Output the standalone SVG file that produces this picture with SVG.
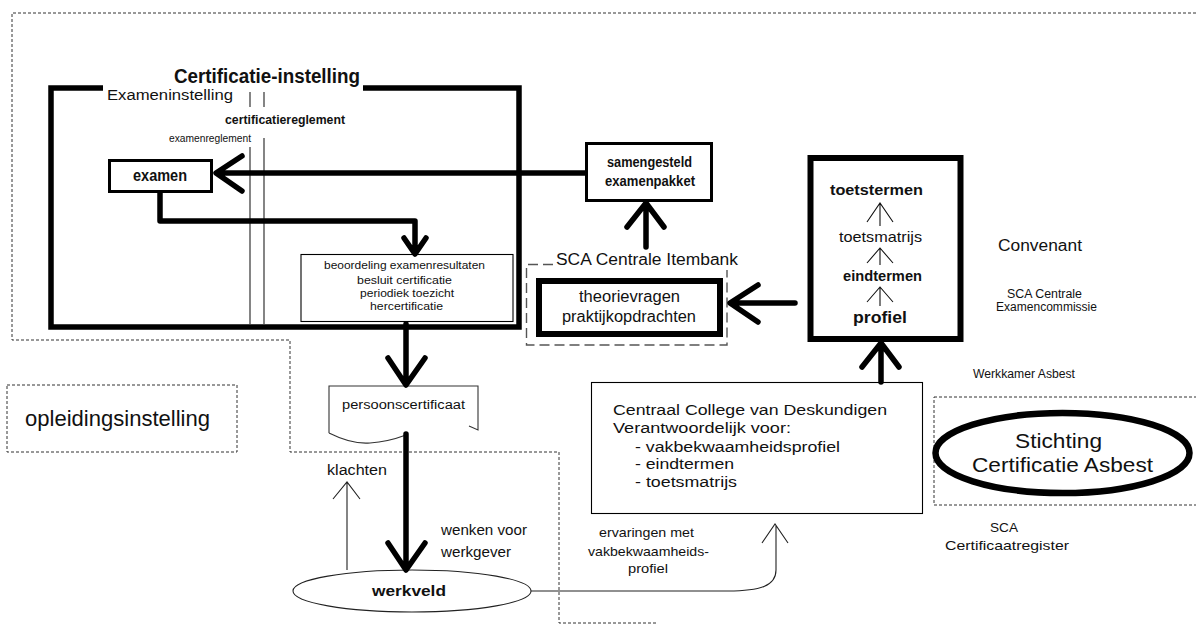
<svg xmlns="http://www.w3.org/2000/svg" width="1196" height="624" viewBox="0 0 1196 624">
<style>
text{font-family:"Liberation Sans",Arial,sans-serif;fill:#111}
.b{font-weight:bold}
.dot{fill:none;stroke:#333;stroke-width:1;stroke-dasharray:3 2}
.thick{fill:none;stroke:#000;stroke-width:5.5;stroke-linecap:round;stroke-linejoin:round}
.thin{fill:none;stroke:#222;stroke-width:1.1}
.box{fill:#fff;stroke:#000}
</style>
<rect width="1196" height="624" fill="#fff"/>

<g id="regions">
<path class="dot" d="M1196,13 H12 V340 H290 V452 H559 V623 H657"/>
</g>

<g id="certificatie-instelling">
<path d="M103,88 H51 V327 H519 V88 H363" fill="none" stroke="#000" stroke-width="5.5"/>
<text class="b" x="174" y="83" font-size="20" textLength="186" lengthAdjust="spacingAndGlyphs">Certificatie-instelling</text>
<text x="107" y="100" font-size="14" textLength="126" lengthAdjust="spacingAndGlyphs">Exameninstelling</text>
<path d="M250,92 V107 M250,147 V324 M264,92 V107 M264,138 V324" stroke="#222" stroke-width="1.1" fill="none"/>
<text class="b" x="225" y="124" font-size="12" textLength="120" lengthAdjust="spacingAndGlyphs">certificatiereglement</text>
<text x="169" y="142" font-size="10" textLength="82" lengthAdjust="spacingAndGlyphs">examenreglement</text>
</g>

<g id="examen">
<rect class="box" x="109.5" y="160.5" width="102" height="31" stroke-width="3"/>
<text class="b" x="133" y="181" font-size="16" textLength="54" lengthAdjust="spacingAndGlyphs">examen</text>
</g>

<g id="beoordeling">
<rect class="box" x="301" y="254.5" width="212" height="67" stroke="#333" stroke-width="1.1"/>
<text x="324" y="269" font-size="11" textLength="161" lengthAdjust="spacingAndGlyphs">beoordeling examenresultaten</text>
<text x="357" y="284" font-size="11" textLength="95" lengthAdjust="spacingAndGlyphs">besluit certificatie</text>
<text x="360" y="297" font-size="11" textLength="94" lengthAdjust="spacingAndGlyphs">periodiek toezicht</text>
<text x="370" y="310" font-size="11" textLength="73" lengthAdjust="spacingAndGlyphs">hercertificatie</text>
</g>

<g id="samengesteld-examenpakket">
<rect class="box" x="586.5" y="143.5" width="125" height="57" stroke-width="3"/>
<text class="b" x="607" y="167" font-size="14" textLength="85" lengthAdjust="spacingAndGlyphs">samengesteld</text>
<text class="b" x="605" y="186" font-size="14" textLength="90" lengthAdjust="spacingAndGlyphs">examenpakket</text>
</g>

<g id="itembank">
<path d="M553,264.5 H526.5 V345 H727 V270" fill="none" stroke="#555" stroke-width="1.4" stroke-dasharray="10 5"/>
<text x="556" y="265" font-size="16" textLength="182" lengthAdjust="spacingAndGlyphs">SCA Centrale Itembank</text>
<rect class="box" x="539" y="281" width="181" height="53" stroke-width="6"/>
<text x="579" y="302" font-size="16" textLength="101" lengthAdjust="spacingAndGlyphs">theorievragen</text>
<text x="562" y="322" font-size="16" textLength="134" lengthAdjust="spacingAndGlyphs">praktijkopdrachten</text>
</g>

<g id="toetstermen-box">
<rect class="box" x="810.5" y="158" width="150" height="181" stroke-width="6"/>
<text class="b" x="830" y="195" font-size="15" textLength="93" lengthAdjust="spacingAndGlyphs">toetstermen</text>
<text x="839" y="242" font-size="15" textLength="83" lengthAdjust="spacingAndGlyphs">toetsmatrijs</text>
<text class="b" x="843" y="281" font-size="15" textLength="79" lengthAdjust="spacingAndGlyphs">eindtermen</text>
<text class="b" x="853" y="323" font-size="17" textLength="54" lengthAdjust="spacingAndGlyphs">profiel</text>
<path d="M880,203 V226 M867,222 L880,203 L893,222 M880,248 V265 M867,263 L880,248 L893,263 M880,287 V306 M867,302 L880,287 L893,302" fill="none" stroke="#111" stroke-width="1.1"/>
</g>

<g id="labels-right">
<text x="998" y="251" font-size="16" textLength="84" lengthAdjust="spacingAndGlyphs">Convenant</text>
<text x="1007" y="298" font-size="12" textLength="75" lengthAdjust="spacingAndGlyphs">SCA Centrale</text>
<text x="996" y="311" font-size="12" textLength="101" lengthAdjust="spacingAndGlyphs">Examencommissie</text>
<text x="973" y="378" font-size="12" textLength="102" lengthAdjust="spacingAndGlyphs">Werkkamer Asbest</text>
</g>

<g id="stichting">
<rect class="dot" x="934" y="397" width="270" height="108"/>
<ellipse cx="1062.5" cy="453" rx="127" ry="40" fill="#fff" stroke="#000" stroke-width="6.5"/>
<text x="1015" y="448" font-size="21" textLength="87" lengthAdjust="spacingAndGlyphs">Stichting</text>
<text x="972" y="472" font-size="21" textLength="181" lengthAdjust="spacingAndGlyphs">Certificatie Asbest</text>
</g>

<g id="certificaatregister">
<text x="990" y="532" font-size="13" textLength="28" lengthAdjust="spacingAndGlyphs">SCA</text>
<text x="945" y="550" font-size="13" textLength="124" lengthAdjust="spacingAndGlyphs">Certificaatregister</text>
</g>

<g id="centraal-college">
<rect class="box" x="591.5" y="382.5" width="331" height="131" stroke="#333" stroke-width="1.1"/>
<text x="613" y="415" font-size="14" textLength="274" lengthAdjust="spacingAndGlyphs">Centraal College van Deskundigen</text>
<text x="613" y="433" font-size="14" textLength="178" lengthAdjust="spacingAndGlyphs">Verantwoordelijk voor:</text>
<text x="635" y="452" font-size="14" textLength="205" lengthAdjust="spacingAndGlyphs">- vakbekwaamheidsprofiel</text>
<text x="635" y="469" font-size="14" textLength="99" lengthAdjust="spacingAndGlyphs">- eindtermen</text>
<text x="635" y="487" font-size="14" textLength="102" lengthAdjust="spacingAndGlyphs">- toetsmatrijs</text>
</g>

<g id="opleidingsinstelling">
<rect class="dot" x="7" y="385" width="230" height="67"/>
<text x="25" y="426" font-size="22" textLength="185" lengthAdjust="spacingAndGlyphs">opleidingsinstelling</text>
</g>

<g id="persoonscertificaat">
<path d="M329,433 V386 H478 V430 L469,426 M329,433 C345,441 358,444 370,443 C385,442 398,438 406,435" fill="#fff" stroke="#333" stroke-width="1.1"/>
<text x="342" y="409" font-size="12" textLength="123" lengthAdjust="spacingAndGlyphs">persoonscertificaat</text>
</g>

<g id="werkveld">
<ellipse cx="412" cy="591" rx="119" ry="21" fill="#fff" stroke="#222" stroke-width="1.1"/>
<text class="b" x="372" y="596" font-size="15" textLength="74" lengthAdjust="spacingAndGlyphs">werkveld</text>
</g>

<g id="connectors">
<path class="thick" d="M585,173 H217 M242,156 L216,173 L242,191"/>
<path class="thick" d="M160,193 V221 H415 V252 M404,238 L415,254 L426,238"/>
<path class="thick" d="M646,247 V204 M627,227 L646,203 L664,227"/>
<path class="thick" d="M795,303 H732 M758,285 L730,303 L758,322"/>
<path class="thick" d="M881,382 V346 M862,367 L881,343 L899,367"/>
<path class="thick" d="M406,324 V382 M388,358 L406,385 L425,358"/>
<path class="thick" d="M406,434 V567 M388,543 L406,570 L425,543"/>
<path class="thin" d="M347,570 V483 M333,499 L347,482 L360,499"/>
<path class="thin" d="M531,591 H728 C760,591 776,586 776,570 V525 M762,543 L775,524 L788,543"/>
<text x="327" y="475" font-size="14" textLength="60" lengthAdjust="spacingAndGlyphs">klachten</text>
<text x="441" y="535" font-size="14" textLength="86" lengthAdjust="spacingAndGlyphs">wenken voor</text>
<text x="441" y="557" font-size="14" textLength="70" lengthAdjust="spacingAndGlyphs">werkgever</text>
<text x="599" y="537" font-size="13" textLength="95" lengthAdjust="spacingAndGlyphs">ervaringen met</text>
<text x="588" y="556" font-size="13" textLength="121" lengthAdjust="spacingAndGlyphs">vakbekwaamheids-</text>
<text x="628" y="573" font-size="13" textLength="40" lengthAdjust="spacingAndGlyphs">profiel</text>
</g>
</svg>
